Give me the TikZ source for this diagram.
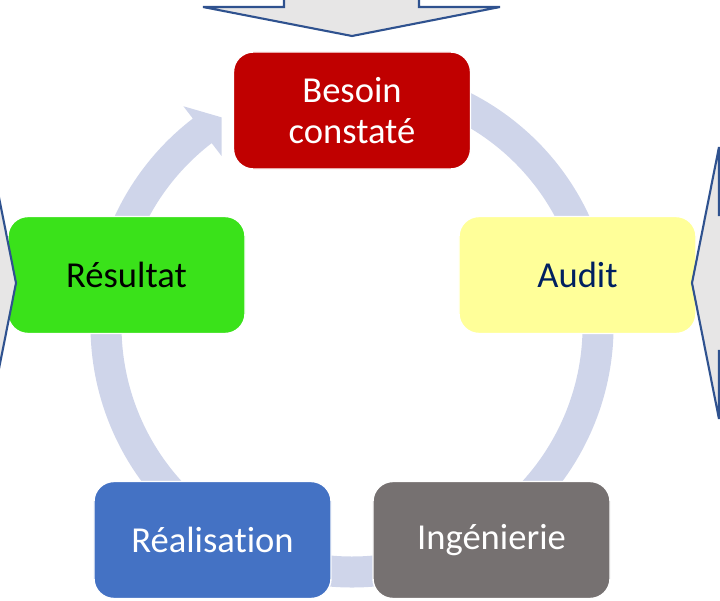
\documentclass[tikz,border=0pt]{standalone}
\usepackage{fontspec}
\setmainfont{Carlito}[Ligatures=NoCommon]
\usetikzlibrary{calc}

\definecolor{besoinred}{HTML}{C00000}
\definecolor{audityellow}{HTML}{FFFF99}
\definecolor{resultgreen}{HTML}{3AE21A}
\definecolor{realblue}{HTML}{4472C4}
\definecolor{inggray}{HTML}{767171}
\definecolor{auditnavy}{HTML}{002060}
\definecolor{ringblue}{HTML}{CFD5EA}
\definecolor{arrowfill}{HTML}{E7E6E6}
\definecolor{arrowline}{HTML}{2F528F}

\begin{document}
\begin{tikzpicture}[x=0.025cm,y=0.025cm,
    stage/.style={rounded corners=0.5cm,draw=white,line width=1pt,
      minimum width=5.925cm,minimum height=2.925cm,inner sep=0pt,
      align=center,font=\fontsize{26}{29}\selectfont},
    ringband/.style={draw=ringblue,line width=0.775cm},
    bigarrow/.style={fill=arrowfill,draw=arrowline,line width=1.5pt,line join=miter}]
    \useasboundingbox (0,0) rectangle (720,600);
    \clip (0,0) rectangle (720,600);

    % Cycle ring
    \coordinate (hub) at (352,274);
    \draw[ringband] ($(hub)+(105:246)$) arc[start angle=105,end angle=-190,radius=246];

    % Arc into Besoin, with its head
    \fill[ringblue] ($(hub)+(168:261.5)$) arc[start angle=168,end angle=127.5,radius=261.5]
      -- ($(hub)+(127.5:277)$) -- ($(hub)+(122:246)$) -- ($(hub)+(127.5:214)$)
      -- ($(hub)+(127.5:230.5)$) arc[start angle=127.5,end angle=168,radius=230.5] -- cycle;

    % Stages
    \node[stage,fill=besoinred,text=white]   (besoin)  at (352,489.5) {Besoin\\constaté};
    \node[stage,fill=audityellow,text=auditnavy] (audit) at (577.5,325) {Audit};
    \node[stage,fill=inggray,text=white]     (ing)     at (491.5,60)  {Ingénierie};
    \node[stage,fill=realblue,text=white]    (real)    at (212.5,60)  {Réalisation};
    \node[stage,fill=resultgreen,text=black] (result)  at (126.5,325) {Résultat};

    % Outer block arrows
    \filldraw[bigarrow] (284,620) -- (284,593) -- (203,593) -- (352,564)
      -- (500,593) -- (419,593) -- (419,620) -- cycle;
    \filldraw[bigarrow] (740,385) -- (719,385) -- (719,453) -- (692,317)
      -- (719,181) -- (719,249) -- (740,249) -- cycle;
    \filldraw[bigarrow] (-40,385) -- (-11,385) -- (-11,453) -- (16,317)
      -- (-11,181) -- (-11,249) -- (-40,249) -- cycle;

  \end{tikzpicture}
\end{document}
